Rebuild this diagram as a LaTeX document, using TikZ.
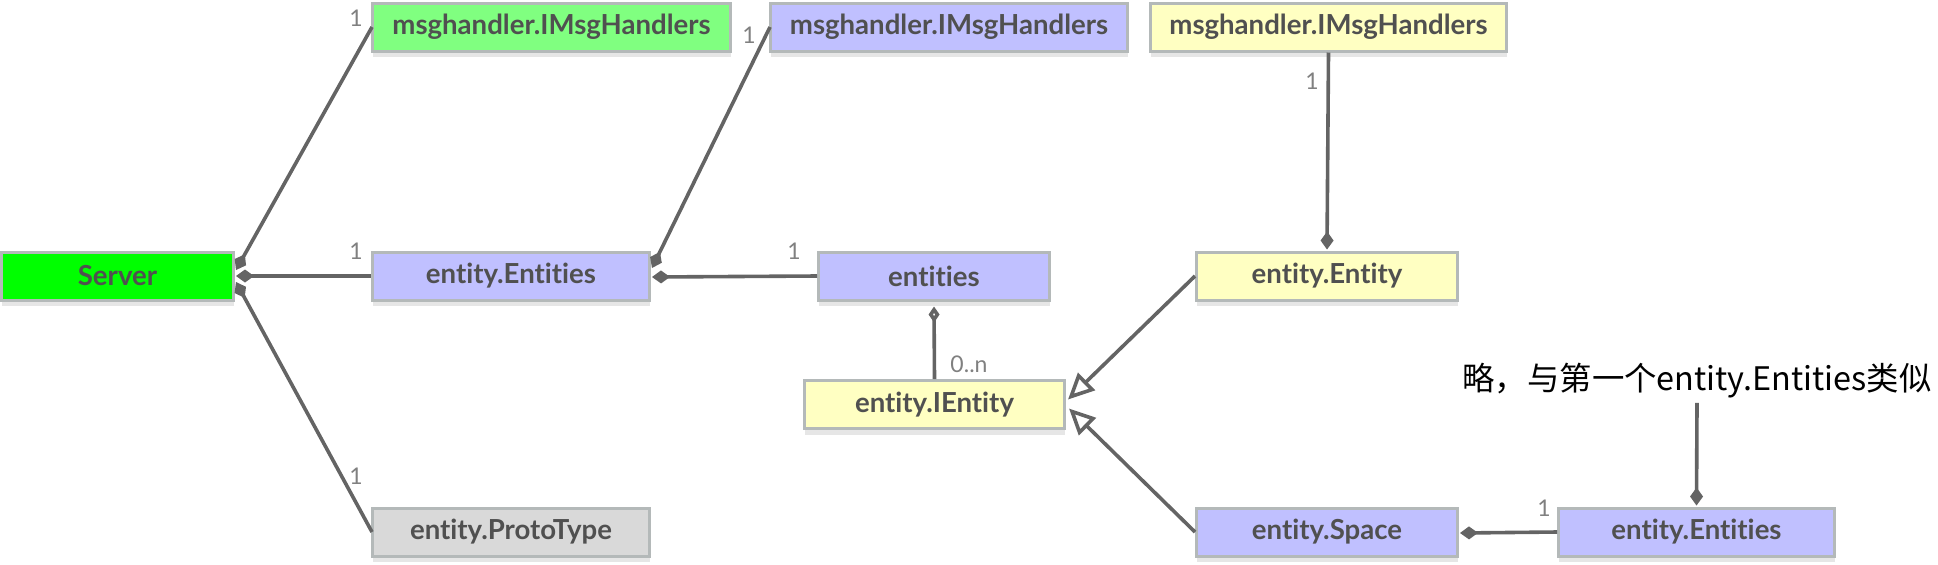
\documentclass[tikz,border=0pt]{standalone}
\usepackage{fontspec}
\setmainfont{Lato}[Ligatures=NoCommon]
\newfontfamily\cjk{Noto Sans CJK SC}
\usetikzlibrary{arrows.meta,calc,shadows}
\definecolor{cgreen}{HTML}{80FF80}
\definecolor{cserver}{HTML}{00FF00}
\definecolor{cpurple}{HTML}{C0C0FF}
\definecolor{cyellow}{HTML}{FFFFC2}
\definecolor{cgray}{HTML}{D9D9D9}
\definecolor{borderc}{HTML}{B4B9B9}
\definecolor{shadowc}{HTML}{E6E6E6}
\definecolor{linec}{HTML}{646464}
\definecolor{textc}{HTML}{505050}
\definecolor{multc}{HTML}{808080}
\begin{document}
\begin{tikzpicture}[x=0.5pt,y=-0.5pt,
  box/.style={draw=borderc, line width=1.5pt, minimum height=24pt, inner sep=0pt,
    font=\fontsize{13.8}{15}\selectfont\bfseries, text=textc,
    general shadow={fill=shadowc, shadow yshift=-3pt}},
  mult/.style={font=\fontsize{11.5}{13}\selectfont, text=multc, inner sep=0pt},
  conn/.style={draw=linec, line width=1.8pt},
  comp/.style={{Diamond[length=9pt,width=6.5pt]}-},
  compend/.style={-{Diamond[length=9pt,width=6.5pt]}},
  aggend/.style={-{Diamond[open,length=8pt,width=5.5pt]}},
  inherit/.style={-{Triangle[open,length=13pt,width=12pt]}}]
\useasboundingbox (0,0) rectangle (1938,564);

% nodes
\node[box, fill=cgreen, minimum width=179pt] (mh1) at (551.5,27) {msghandler.IMsgHandlers};
\node[box, fill=cpurple, minimum width=178.5pt] (mh2) at (949,27) {msghandler.IMsgHandlers};
\node[box, fill=cyellow, minimum width=178pt] (mh3) at (1328.5,27) {msghandler.IMsgHandlers};
\node[box, fill=cserver, minimum width=116pt] (server) at (117.5,276) {Server};
\node[box, fill=cpurple, minimum width=138.5pt] (ents1) at (511,276) {entity.Entities};
\node[box, fill=cpurple, minimum width=115.5pt] (entities) at (934,276) {entities};
\node[box, fill=cyellow, minimum width=130.5pt] (entity) at (1327,276) {entity.Entity};
\node[box, fill=cyellow, minimum width=130pt] (ientity) at (934.5,404.5) {entity.IEntity};
\node[box, fill=cgray, minimum width=138.5pt] (proto) at (511,532) {entity.ProtoType};
\node[box, fill=cpurple, minimum width=130.5pt] (space) at (1327,532) {entity.Space};
\node[box, fill=cpurple, minimum width=138pt] (ents2) at (1696.5,532) {entity.Entities};
\node[font=\cjk\fontsize{16.2}{18}\selectfont, inner sep=0pt] (note) at (1697,381) {略，与第一个entity.Entities类似};

% multiplicities
\node[mult] (m1) at (356,18) {1};
\node[mult] (m2) at (356,251) {1};
\node[mult] (m3) at (356,476) {1};
\node[mult] (m4) at (749,35) {1};
\node[mult] (m5) at (794,251) {1};
\node[mult] (m6) at (1312,81) {1};
\node[mult] (m7) at (969,364) {0..n};
\node[mult] (m8) at (1544,508) {1};

% connectors
\draw[conn, comp] ($(server.east)+(1,-6)$) -- ($(mh1.west)+(1,0)$);
\draw[conn, comp] ($(server.east)+(1,0)$) -- (ents1.west);
\draw[conn, comp] ($(server.east)+(1,6)$) -- ($(proto.west)+(1,0)$);
\draw[conn, comp] ($(ents1.east)+(1,-8)$) -- ($(mh2.west)+(1,0)$);
\draw[conn, comp] ($(ents1.east)+(1,1)$) -- (entities.west);
\draw[conn, aggend] (ientity.north) -- ($(entities.south)+(0,5)$);
\draw[conn, compend] (mh3.south) -- ($(entity.north)+(0,-1)$);
\draw[conn, inherit] (entity.west) -- ($(ientity.east)+(2,-5)$);
\draw[conn, inherit] (space.west) -- ($(ientity.east)+(3,4)$);
\draw[conn, comp] ($(space.east)+(1,1)$) -- (ents2.west);
\draw[conn, compend] ($(note.south)+(0,4)$) -- ($(ents2.north)+(0,-1)$);
\end{tikzpicture}
\end{document}
